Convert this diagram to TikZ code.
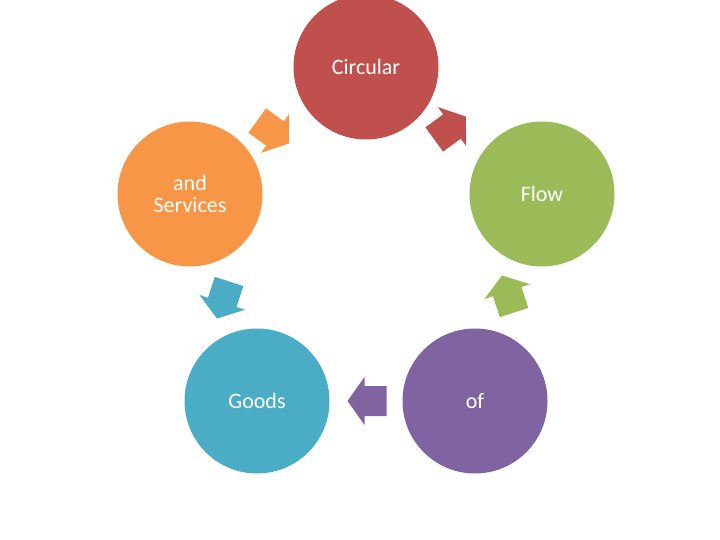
\documentclass[tikz,border=0pt]{standalone}
\usepackage{fontspec}
\setmainfont{Carlito}
\begin{document}
\begin{tikzpicture}[x=1pt,y=-1pt,
  ball/.style={circle,minimum size=145pt,inner sep=0pt,text=white,font=\fontsize{22}{26}\selectfont,align=center},
  arr/.style={fill=#1}]
\useasboundingbox (0,0) rectangle (720,540);
\definecolor{cr}{HTML}{C0504D}\definecolor{cg}{HTML}{9BBB59}\definecolor{cp}{HTML}{8064A2}
\definecolor{cb}{HTML}{4BACC6}\definecolor{co}{HTML}{F79646}
\node[ball,fill=cr] (c1) at (366,67) {Circular};
\node[ball,fill=cg] (c2) at (542,194) {Flow};
\node[ball,fill=cp] (c3) at (475,401) {of};
\node[ball,fill=cb] (c4) at (257,401) {Goods};
\node[ball,fill=co] (c5) at (190,194) {and\\[-4pt]Services};
\def\blk{(-19.5,-15) -- (2.5,-15) -- (2.5,-24) -- (19.5,0) -- (2.5,24) -- (2.5,15) -- (-19.5,15) -- cycle}
\fill[cr,shift={(450,128)},rotate=36] \blk;
\fill[cg,shift={(508,294)},rotate=108] \blk;
\fill[cp,shift={(367,401)},rotate=180] \blk;
\fill[cb,shift={(223,300)},rotate=-108] \blk;
\fill[co,shift={(273,132)},rotate=-36] \blk;
\end{tikzpicture}
\end{document}
